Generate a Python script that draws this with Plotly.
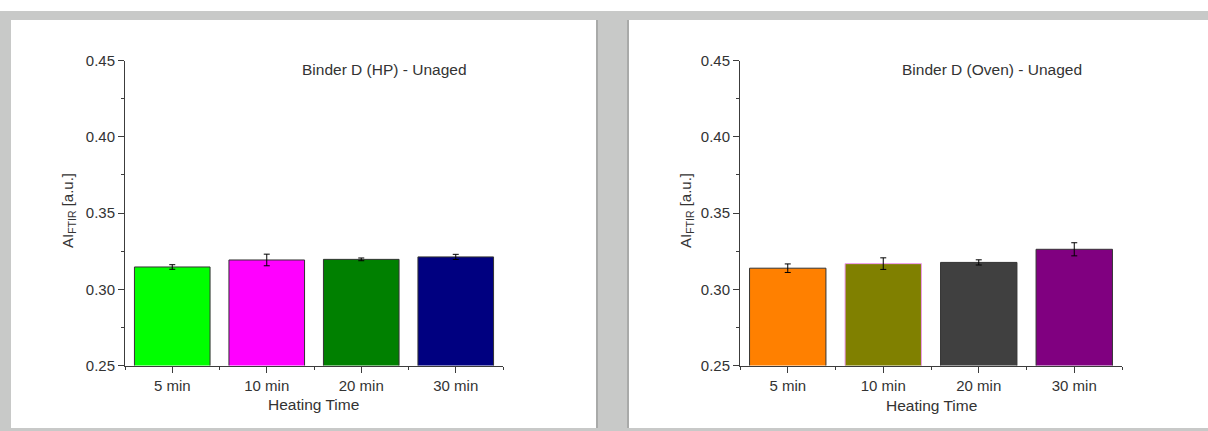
import plotly.graph_objects as go

W, H = 1208, 431

categories = ["5 min", "10 min", "20 min", "30 min"]

hp_values = [0.3146, 0.3192, 0.3196, 0.3212]
hp_errors = [0.0015, 0.0038, 0.0009, 0.0017]
hp_colors = ["#00FF00", "#FF00FF", "#008000", "#000080"]
hp_edges = ["#333333", "#333333", "#333333", "#333333"]

oven_values = [0.3138, 0.3168, 0.3176, 0.3262]
oven_errors = [0.0028, 0.0038, 0.0017, 0.0043]
oven_colors = ["#FF8000", "#808000", "#404040", "#800080"]
oven_edges = ["#333333", "#F09AF0", "#333333", "#333333"]

title_hp = "Binder D (HP) - Unaged"
title_oven = "Binder D (Oven) - Unaged"
x_title = "Heating Time"
y_title = "AI<sub>FTIR</sub> [a.u.]"
y_range = [0.25, 0.45]
y_tickvals = [0.25, 0.30, 0.35, 0.40, 0.45]

FONT = "Liberation Sans, Arial, sans-serif"
TXT = "#333333"
AX = "#3c3c3c"


def px(x):
    return x / W


def py(y):
    return 1 - y / H


xpos = list(range(len(categories)))

fig = go.Figure()
fig.add_trace(go.Bar(
    x=xpos, y=hp_values, width=0.8,
    marker=dict(color=hp_colors, line=dict(color=hp_edges, width=1)),
    error_y=dict(type="data", array=hp_errors, color="black", thickness=1, width=3),
    xaxis="x", yaxis="y", showlegend=False,
))
fig.add_trace(go.Bar(
    x=xpos, y=oven_values, width=0.8,
    marker=dict(color=oven_colors, line=dict(color=oven_edges, width=1)),
    error_y=dict(type="data", array=oven_errors, color="black", thickness=1, width=3),
    xaxis="x2", yaxis="y2", showlegend=False,
))

ydom = [py(365.5), py(60.5)]


def xaxis_cfg(d0, d1, anchor):
    return dict(
        domain=[px(d0), px(d1)], anchor=anchor, range=[-0.5, 3.5],
        tickmode="array", tickvals=xpos, ticktext=categories,
        showline=True, linecolor=AX, linewidth=1, mirror=False,
        ticks="outside", ticklen=6, tickwidth=1, tickcolor=AX,
        minor=dict(ticks="outside", ticklen=3, tickwidth=1, tickcolor=AX,
                   tickmode="linear", tick0=0.5, dtick=1),
        showgrid=False, zeroline=False, automargin=False,
        tickfont=dict(family=FONT, size=15, color=TXT),
    )


def yaxis_cfg(anchor):
    return dict(
        domain=ydom, anchor=anchor, range=y_range,
        tickmode="array", tickvals=y_tickvals, tickformat=".2f",
        showline=True, linecolor=AX, linewidth=1,
        ticks="outside", ticklen=6, tickwidth=1, tickcolor=AX,
        minor=dict(ticks="outside", ticklen=3, tickwidth=1, tickcolor=AX,
                   tickmode="linear", tick0=0.275, dtick=0.05),
        showgrid=False, zeroline=False, automargin=False,
        tickfont=dict(family=FONT, size=15, color=TXT),
    )


shapes = [
    dict(type="rect", xref="paper", yref="paper", x0=0, x1=1, y0=py(11), y1=1,
         fillcolor="white", line=dict(width=0), layer="below"),
    dict(type="rect", xref="paper", yref="paper", x0=px(11), x1=px(596), y0=py(428), y1=py(20),
         fillcolor="white", line=dict(width=0), layer="below"),
    dict(type="rect", xref="paper", yref="paper", x0=px(596), x1=px(598), y0=py(428), y1=py(20),
         fillcolor="#a9aaa9", line=dict(width=0), layer="below"),
    dict(type="rect", xref="paper", yref="paper", x0=px(629), x1=1, y0=py(428), y1=py(20),
         fillcolor="white", line=dict(width=0), layer="below"),
    dict(type="rect", xref="paper", yref="paper", x0=px(627), x1=px(629), y0=py(428), y1=py(20),
         fillcolor="#a9aaa9", line=dict(width=0), layer="below"),
]

annotations = [
    dict(text=title_hp, x=px(384), y=py(69), xref="paper", yref="paper", showarrow=False,
         xanchor="center", yanchor="middle", font=dict(family=FONT, size=15.5, color=TXT)),
    dict(text=title_oven, x=px(992), y=py(70), xref="paper", yref="paper", showarrow=False,
         xanchor="center", yanchor="middle", font=dict(family=FONT, size=15.5, color=TXT)),
    dict(text=x_title, x=px(313), y=py(404), xref="paper", yref="paper", showarrow=False,
         xanchor="center", yanchor="middle", font=dict(family=FONT, size=15.5, color=TXT)),
    dict(text=x_title, x=px(931), y=py(405), xref="paper", yref="paper", showarrow=False,
         xanchor="center", yanchor="middle", font=dict(family=FONT, size=15.5, color=TXT)),
    dict(text=y_title, x=px(68), y=py(211), xref="paper", yref="paper", showarrow=False,
         textangle=-90, xanchor="center", yanchor="middle", font=dict(family=FONT, size=15, color=TXT)),
    dict(text=y_title, x=px(686), y=py(211), xref="paper", yref="paper", showarrow=False,
         textangle=-90, xanchor="center", yanchor="middle", font=dict(family=FONT, size=15, color=TXT)),
]

fig.update_layout(
    width=W, height=H,
    margin=dict(l=0, r=0, t=0, b=0, pad=0, autoexpand=False),
    paper_bgcolor="#c8c9c8",
    plot_bgcolor="white",
    barmode="group",
    xaxis=xaxis_cfg(125, 503, "y"),
    yaxis=yaxis_cfg("x"),
    xaxis2=xaxis_cfg(740, 1122, "y2"),
    yaxis2=yaxis_cfg("x2"),
    shapes=shapes,
    annotations=annotations,
    font=dict(family=FONT, size=15, color=TXT),
)

fig.write_html("out.html", config={"displayModeBar": False},
               post_script="document.body.style.margin='0';document.body.style.overflow='hidden';")
